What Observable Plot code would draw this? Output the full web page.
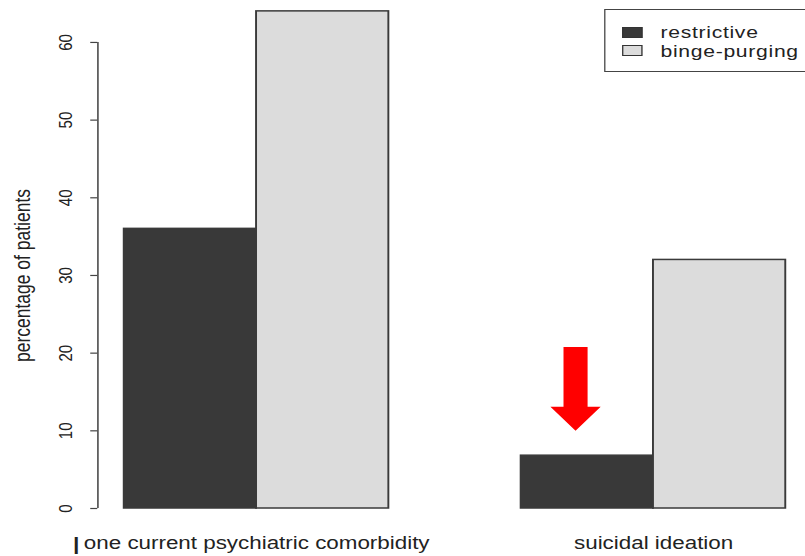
<!DOCTYPE html>
<html>
<head>
<meta charset="utf-8">
<script src="https://cdn.jsdelivr.net/npm/d3@7"></script>
<script src="https://cdn.jsdelivr.net/npm/@observablehq/plot@0.6"></script>
<style>
  html, body { margin: 0; padding: 0; background: #fff; overflow: hidden; width: 805px; height: 556px; }
  /* the figure is drawn at 629px wide and stretched horizontally to fill the page */
  #wrap { position: relative; width: 629px; height: 556px; transform: scaleX(1.28); transform-origin: 0 0;
          font-family: "Liberation Sans", Arial, sans-serif; }
  #legend { position: absolute; left: 472px; top: 9px; width: 200px; height: 61px;
            border: 1.5px solid #444; background: #fff; }
  .row { position: absolute; left: 0; height: 16px; display: flex; align-items: center;
         font-size: 16.5px; line-height: 16px; letter-spacing: 0.55px; color: #222; white-space: nowrap; }
  .sw { width: 14px; height: 9px; border: 1px solid #333; margin-left: 13px; margin-right: 14px; }
</style>
</head>
<body>
<div id="wrap"></div>
<script>
// Percentage of patients per subtype
const categories = ["one current psychiatric comorbidity", "suicidal ideation"];
const seriesNames = ["restrictive", "binge-purging"];
const restrictive = [36, 6.8];
const bingePurging = [64, 32];
const yTicks = [0, 10, 20, 30, 40, 50, 60];
const seriesColors = ["#393939", "#dcdcdc"];

// Highlight arrow pointing down at one bar (values in percentage units)
const highlight = { category: "suicidal ideation", series: "restrictive", top: 20.8, headBase: 13.1, tip: 10 };

// barplot layout: unit-width bars, one unit of space before each group
const values = [restrictive, bingePurging];
const bars = categories.flatMap((category, gi) =>
  seriesNames.map((series, si) => ({
    category, series, value: values[si][gi],
    x1: 1 + gi * 3 + si, x2: 2 + gi * 3 + si
  }))
);
const groups = categories.map((category, gi) => ({ category, x: 2 + gi * 3 }));
const xMin = 0.8;

// arrow outline around the highlighted bar's centre
const target = bars.find(b => b.category === highlight.category && b.series === highlight.series);
const cx = (target.x1 + target.x2) / 2 - 0.09;
const shaft = 0.091, head = 0.19;
const arrow = [
  [cx - shaft, highlight.top], [cx + shaft, highlight.top], [cx + shaft, highlight.headBase],
  [cx + head, highlight.headBase], [cx, highlight.tip], [cx - head, highlight.headBase],
  [cx - shaft, highlight.headBase]
];

const chart = Plot.plot({
  width: 629,
  height: 556,
  marginLeft: 76,
  marginRight: 0,
  marginTop: 0,
  marginBottom: 48,
  style: { fontFamily: "Liberation Sans, Arial, sans-serif", color: "#222", background: "#fff" },
  x: { domain: [xMin, 6.15], axis: null },
  y: { domain: [0, 65.4], axis: null },
  color: { domain: seriesNames, range: seriesColors },
  marks: [
    Plot.rect(bars, { x1: "x1", x2: "x2", y1: 0, y2: "value", fill: "series", stroke: "#3a3a3a", strokeWidth: 1.5 }),
    Plot.ruleX([xMin], { y1: yTicks[0], y2: yTicks[yTicks.length - 1], stroke: "#444", strokeWidth: 1.2 }),
    Plot.axisY({ ticks: yTicks, tickSize: 5.5, tickFormat: () => "", stroke: "#444", strokeWidth: 1.2, label: null }),
    Plot.text(yTicks, {
      y: d => d, frameAnchor: "left", textAnchor: "middle", dx: -25, rotate: -90,
      text: d => String(d), fontSize: 15, fill: "#222"
    }),
    Plot.text(["percentage of patients"], {
      y: (yTicks[0] + yTicks[yTicks.length - 1]) / 2, frameAnchor: "left", textAnchor: "middle",
      dx: -59, rotate: -90, fontSize: 17.5, fill: "#222"
    }),
    Plot.text(groups, { x: "x", text: "category", frameAnchor: "bottom", dy: 40, fontSize: 17.5, fill: "#222" }),
    Plot.text(groups.slice(0, 1), {
      x: "x", text: () => "|", frameAnchor: "bottom", dy: 41, dx: -141,
      fontSize: 18, fontWeight: "bold", fill: "#222"
    }),
    Plot.line(arrow, { x: d => d[0], y: d => d[1], fill: "#ff0000", stroke: "none" })
  ]
});

const wrap = document.getElementById("wrap");
wrap.appendChild(chart);

// legend box in the upper right corner
const legend = document.createElement("div");
legend.id = "legend";
seriesNames.forEach((name, i) => {
  const row = document.createElement("div");
  row.className = "row";
  row.style.top = (14 + i * 18.5) + "px";
  const sw = document.createElement("span");
  sw.className = "sw";
  sw.style.background = seriesColors[i];
  const label = document.createElement("span");
  label.textContent = name;
  row.appendChild(sw);
  row.appendChild(label);
  legend.appendChild(row);
});
wrap.appendChild(legend);
</script>
</body>
</html>
